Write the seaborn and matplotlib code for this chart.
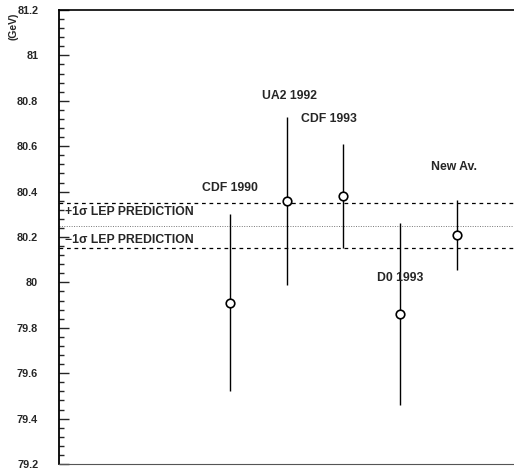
import numpy as np
import pandas as pd
import matplotlib
matplotlib.use("Agg")
import matplotlib.pyplot as plt
from matplotlib.ticker import AutoMinorLocator, FuncFormatter
import seaborn as sns

# W mass measurements (GeV)
experiments = ["CDF 1990", "UA2 1992", "CDF 1993", "D0 1993", "New Av."]
positions = [3, 4, 5, 6, 7]
mass = [79.91, 80.36, 80.38, 79.86, 80.21]
err = [0.39, 0.37, 0.23, 0.40, 0.155]

# LEP prediction band
lep_center = 80.25
lep_sigma = 0.10

# Label placement (data coordinates)
label_x = [3.0, 4.05, 4.75, 6.0, 6.95]
label_y = [80.415, 80.82, 80.72, 80.02, 80.51]

y_ticks = [79.2, 79.4, 79.6, 79.8, 80.0, 80.2, 80.4, 80.6, 80.8, 81.0, 81.2]

df = pd.DataFrame({"exp": experiments, "x": positions, "m": mass, "e": err})

sns.set_style("white")
plt.rcParams["font.family"] = ["Liberation Sans", "DejaVu Sans"]
plt.rcParams["font.weight"] = "bold"

fig = plt.figure(figsize=(5.14, 4.71), dpi=100)
ax = fig.add_axes([0.1148, 0.0149, 0.8852, 0.9639])

# LEP band lines
ax.axhline(lep_center + lep_sigma, color="black", lw=0.9, ls=(0, (3, 3)), zorder=1)
ax.axhline(lep_center, color="#777777", lw=0.7, ls=(0, (1, 1.5)), zorder=1)
ax.axhline(lep_center - lep_sigma, color="black", lw=0.9, ls=(0, (3, 3)), zorder=1)

# error bars
ax.errorbar(df["x"], df["m"], yerr=df["e"], fmt="none", ecolor="black",
            elinewidth=1.0, capsize=0, zorder=2)
# measurement points
sns.scatterplot(data=df, x="x", y="m", ax=ax, marker="o", s=38,
                facecolor="white", edgecolor="black", linewidth=1.2,
                zorder=3, legend=False)

for name, lx, ly in zip(experiments, label_x, label_y):
    ax.text(lx, ly, name, ha="center", va="center", fontsize=8.8,
            fontweight="bold")

ax.text(0.1, lep_center + lep_sigma - 0.04, "+1\u03c3 LEP PREDICTION",
        ha="left", va="center", fontsize=8.8, fontweight="bold")
ax.text(0.1, lep_center - lep_sigma + 0.035, "\u22121\u03c3 LEP PREDICTION",
        ha="left", va="center", fontsize=8.8, fontweight="bold")

ax.set_xlim(0, 8)
ax.set_ylim(79.2, 81.2)
ax.set_xticks([])
ax.set_yticks(y_ticks)
ax.yaxis.set_major_formatter(FuncFormatter(lambda v, p: f"{v:g}"))
ax.yaxis.set_minor_locator(AutoMinorLocator(5))
ax.tick_params(axis="y", which="major", direction="in", length=7, width=1.0,
               pad=15, labelsize=7.8, left=True)
ax.tick_params(axis="y", which="minor", direction="in", length=3.5, width=1.0,
               left=True)
ax.set_xlabel("")
ax.set_ylabel("")

ax.spines["left"].set_linewidth(1.3)
ax.spines["top"].set_linewidth(1.2)
ax.spines["bottom"].set_linewidth(0.8)
ax.spines["bottom"].set_color("#555555")
ax.spines["right"].set_visible(False)
for s in ["left", "top"]:
    ax.spines[s].set_color("black")

fig.text(0.027, 0.945, "(GeV)", rotation=90, ha="center", va="center",
         fontsize=7.5, fontweight="bold")

fig.savefig("out.png", dpi=100)
